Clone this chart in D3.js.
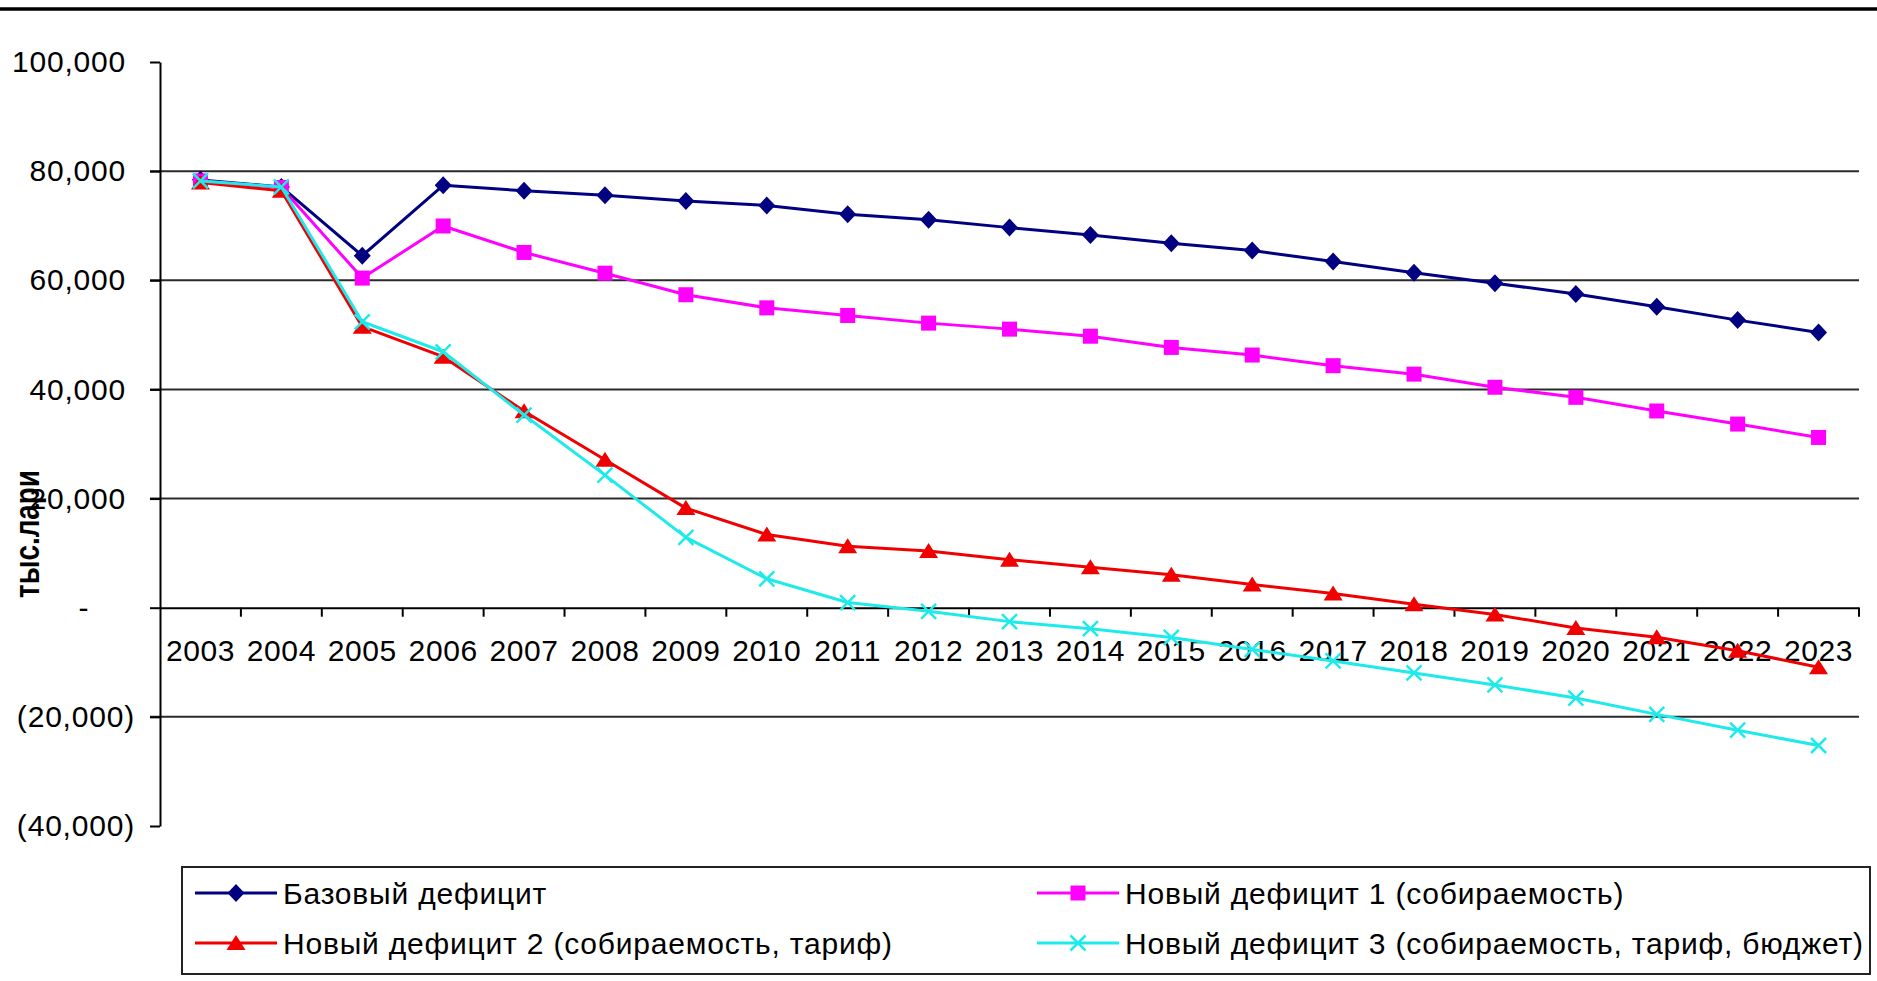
<!DOCTYPE html>
<html>
<head>
<meta charset="utf-8">
<script src="https://cdn.jsdelivr.net/npm/d3@7"></script>
<style>
  body { margin: 0; background: #fff; }
  svg { display: block; font-family: "Liberation Sans", Arial, sans-serif; }
</style>
</head>
<body>
<svg id="chart" width="1877" height="981"></svg>
<script>
// years on the x axis
const years = ['2003','2004','2005','2006','2007','2008','2009','2010','2011','2012','2013',
               '2014','2015','2016','2017','2018','2019','2020','2021','2022','2023'];

// series values, тыс. лари
const baseDeficit = [78400, 77100, 64500, 77400, 76400, 75600, 74550, 73700, 72100, 71100, 69650,
                     68300, 66800, 65450, 63450, 61400, 59450, 57500, 55150, 52700, 50450];
const newDeficit1 = [78200, 77000, 60400, 69950, 65100, 61300, 57350, 54950, 53550, 52150, 51050,
                     49750, 47700, 46300, 44350, 42800, 40400, 38550, 36050, 33650, 31200];
const newDeficit2 = [77900, 76400, 51500, 46000, 36000, 27100, 18250, 13400, 11250, 10400, 8800,
                     7400, 6050, 4260, 2600, 650, -1250, -3700, -5400, -7900, -10900];
const newDeficit3 = [78200, 77100, 52400, 46900, 35300, 24300, 12900, 5300, 950, -650, -2550,
                     -3850, -5450, -7650, -9750, -11950, -14150, -16550, -19550, -22450, -25250];

const seriesNames = ['Базовый дефицит', 'Новый дефицит 1 (собираемость)',
                     'Новый дефицит 2 (собираемость, тариф)', 'Новый дефицит 3 (собираемость, тариф, бюджет)'];
const yTicks = [100000, 80000, 60000, 40000, 20000, 0, -20000, -40000];
const yTitle = 'тыс.лари';

const series = [
  { name: seriesNames[0], values: baseDeficit, color: '#000080', marker: 'diamond' },
  { name: seriesNames[1], values: newDeficit1, color: '#FF00FF', marker: 'square' },
  { name: seriesNames[2], values: newDeficit2, color: '#F00000', marker: 'triangle' },
  { name: seriesNames[3], values: newDeficit3, color: '#1EEAEA', marker: 'cross' }
];

const svg = d3.select('#chart');
const plotLeft = 160, plotRight = 1859, plotTop = 62, plotBottom = 826;

const x = d3.scaleBand().domain(years).range([plotLeft, plotRight]).padding(0);
const y = d3.scaleLinear().domain([-40000, 100000]).range([plotBottom, plotTop]);

svg.append('rect').attr('width', 1877).attr('height', 981).attr('fill', '#fff');

// thick rule at the top of the slide
svg.append('line').attr('x1', 0).attr('x2', 1877).attr('y1', 9).attr('y2', 9)
  .attr('stroke', '#000').attr('stroke-width', 3.5);

// gridlines
svg.append('g').selectAll('line')
  .data(yTicks.filter(d => d !== 0 && d !== 100000 && d !== -40000))
  .join('line')
  .attr('x1', plotLeft - 10).attr('x2', plotRight)
  .attr('y1', d => y(d)).attr('y2', d => y(d))
  .attr('stroke', '#2a2a2a').attr('stroke-width', 2);

// y axis
const fmt = d3.format(',');
const yAxis = svg.append('g').attr('transform', `translate(${plotLeft},0)`)
  .call(d3.axisLeft(y).tickValues(yTicks).tickSize(10).tickSizeOuter(0).tickFormat(d => d < 0 ? `(${fmt(-d)})` : d === 0 ? '-' : fmt(d)));
yAxis.select('.domain').attr('stroke', '#000').attr('stroke-width', 2);
yAxis.selectAll('.tick line').attr('stroke', '#000').attr('stroke-width', 2);
yAxis.selectAll('.tick text')
  .attr('font-size', 30).attr('fill', '#000').attr('letter-spacing', 0.8)
  .attr('x', d => d < 0 ? -25 : d === 0 ? -76 : -34)
  .attr('text-anchor', d => d === 0 ? 'middle' : 'end');

// x axis at zero
const xAxis = svg.append('g').attr('transform', `translate(0,${y(0)})`)
  .call(d3.axisBottom(x).tickSize(0).tickSizeOuter(0));
xAxis.select('.domain').attr('stroke', '#000').attr('stroke-width', 2);
xAxis.selectAll('.tick text').attr('font-size', 30).attr('letter-spacing', 0.6)
  .attr('fill', '#000').attr('dy', 0).attr('y', 53);
xAxis.append('g').selectAll('line')
  .data(years.slice(1).concat(['end']))
  .join('line')
  .attr('x1', d => d === 'end' ? plotRight : x(d)).attr('x2', d => d === 'end' ? plotRight : x(d))
  .attr('y1', 0).attr('y2', 9)
  .attr('stroke', '#000').attr('stroke-width', 2);

// y title
svg.append('text')
  .attr('transform', 'translate(39,534) rotate(-90)')
  .attr('text-anchor', 'middle')
  .attr('font-size', 35).attr('font-weight', 'bold')
  .attr('textLength', 128).attr('lengthAdjust', 'spacingAndGlyphs')
  .text(yTitle);

// markers
function drawMarker(g, type, color) {
  if (type === 'diamond') {
    g.append('path').attr('d', 'M0,-9L8.5,0L0,9L-8.5,0Z').attr('fill', color);
  } else if (type === 'square') {
    g.append('rect').attr('x', -7.5).attr('y', -7.5).attr('width', 15).attr('height', 15).attr('fill', color);
  } else if (type === 'triangle') {
    g.append('path').attr('d', 'M0,-8L9.5,7L-9.5,7Z').attr('fill', color);
  } else {
    g.append('path').attr('d', 'M-7.5,-7.5L7.5,7.5M-7.5,7.5L7.5,-7.5').attr('stroke', color).attr('stroke-width', 2.5).attr('fill', 'none');
  }
}

const line = d3.line()
  .x((d, i) => x(years[i]) + x.bandwidth() / 2)
  .y(d => y(d));

series.forEach(s => {
  const g = svg.append('g');
  g.append('path').attr('d', line(s.values))
    .attr('fill', 'none').attr('stroke', s.color).attr('stroke-width', 3).attr('stroke-linejoin', 'round');
  s.values.forEach((v, i) => {
    const m = g.append('g').attr('transform', `translate(${x(years[i]) + x.bandwidth() / 2},${y(v)})`);
    drawMarker(m, s.marker, s.color);
  });
});

// legend
const legend = svg.append('g');
legend.append('rect').attr('x', 182).attr('y', 867).attr('width', 1688).attr('height', 107)
  .attr('fill', '#fff').attr('stroke', '#222').attr('stroke-width', 2);
const legendPos = [[195, 893], [1037, 893], [195, 943], [1037, 943]];
series.forEach((s, i) => {
  const [lx, ly] = legendPos[i];
  const it = legend.append('g').attr('transform', `translate(${lx},${ly})`);
  it.append('line').attr('x1', 0).attr('x2', 82).attr('stroke', s.color).attr('stroke-width', 3);
  drawMarker(it.append('g').attr('transform', 'translate(41,0)'), s.marker, s.color);
  it.append('text').attr('x', 88).attr('dy', '0.35em')
    .attr('font-size', 30).attr('letter-spacing', 0.8).attr('fill', '#000').text(s.name);
});
</script>
</body>
</html>
